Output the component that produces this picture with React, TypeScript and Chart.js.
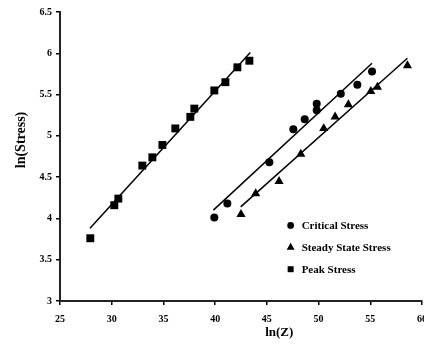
import React, { useEffect, useRef } from "react";
import { Chart, registerables } from "chart.js";

Chart.register(...registerables);

const peakX = [27.93, 30.25, 30.64, 32.96, 33.93, 34.9, 36.15, 37.6, 37.99, 39.92, 40.99, 42.15, 43.31];
const peakY = [3.76, 4.16, 4.24, 4.64, 4.74, 4.89, 5.09, 5.23, 5.33, 5.55, 5.65, 5.83, 5.91];

const criticalX = [39.92, 41.18, 45.24, 47.56, 48.66, 49.82, 49.82, 52.15, 53.75, 55.17];
const criticalY = [4.01, 4.18, 4.68, 5.08, 5.2, 5.39, 5.31, 5.51, 5.62, 5.78];

const steadyX = [42.5, 43.92, 46.18, 48.28, 50.5, 51.6, 52.88, 55.05, 55.69, 58.59];
const steadyY = [4.05, 4.3, 4.45, 4.78, 5.09, 5.23, 5.38, 5.54, 5.59, 5.85];

// fitted trend lines: [start, end]
const peakFitX = [27.9, 43.4];
const peakFitY = [3.88, 6.01];
const criticalFitX = [39.83, 55.17];
const criticalFitY = [4.1, 5.88];
const steadyFitX = [42.47, 58.59];
const steadyFitY = [4.14, 5.94];

const seriesLabels = ["Critical Stress", "Steady State Stress", "Peak Stress"];
const xTitle = "ln(Z)";
const yTitle = "ln(Stress)";

const FONT = "'Liberation Serif', 'Times New Roman', serif";

const zip = (xs: number[], ys: number[]) => xs.map((x, i) => ({ x, y: ys[i] }));

const overlay = {
  id: "overlay",
  afterDraw(chart: any) {
    const ctx = chart.ctx;
    const xs = chart.scales.x;
    const ys = chart.scales.y;
    ctx.save();
    ctx.fillStyle = "#000";
    // y title
    ctx.font = `bold 14px ${FONT}`;
    ctx.textAlign = "center";
    ctx.textBaseline = "middle";
    ctx.save();
    ctx.translate(21, ys.getPixelForValue(4.95));
    ctx.rotate(-Math.PI / 2);
    ctx.fillText(yTitle, 0, 0);
    ctx.restore();
    // x title
    ctx.font = `bold 13px ${FONT}`;
    ctx.fillText(xTitle, xs.getPixelForValue(46.2), 333);
    // legend
    const lx = xs.getPixelForValue(47.3);
    const textX = lx + 11;
    const rows = [ys.getPixelForValue(3.915), ys.getPixelForValue(3.65), ys.getPixelForValue(3.385)];
    ctx.font = `bold 11px ${FONT}`;
    ctx.textAlign = "left";
    rows.forEach((ry: number, i: number) => {
      ctx.beginPath();
      if (i === 0) {
        ctx.arc(lx, ry, 3.4, 0, Math.PI * 2);
      } else if (i === 1) {
        const r = 4.6;
        ctx.moveTo(lx, ry - r);
        ctx.lineTo(lx + r * 0.866, ry + r * 0.5);
        ctx.lineTo(lx - r * 0.866, ry + r * 0.5);
        ctx.closePath();
      } else {
        ctx.rect(lx - 3, ry - 3, 6, 6);
      }
      ctx.fill();
      ctx.fillText(seriesLabels[i], textX, ry + 0.5);
    });
    ctx.restore();
  },
};

export default function App() {
  const ref = useRef<HTMLCanvasElement | null>(null);
  useEffect(() => {
    if (!ref.current) return;
    const lineStyle = {
      type: "line" as const,
      showLine: true,
      borderColor: "#000",
      borderWidth: 1.5,
      pointRadius: 0,
      fill: false,
    };
    const chart = new Chart(ref.current, {
      type: "scatter",
      data: {
        datasets: [
          { ...lineStyle, label: "peakFit", data: zip(peakFitX, peakFitY) },
          { ...lineStyle, label: "criticalFit", data: zip(criticalFitX, criticalFitY) },
          { ...lineStyle, label: "steadyFit", data: zip(steadyFitX, steadyFitY) },
          {
            label: seriesLabels[0],
            data: zip(criticalX, criticalY),
            pointStyle: "circle",
            pointRadius: 4,
            backgroundColor: "#000",
            borderColor: "#000",
            borderWidth: 0,
          },
          {
            label: seriesLabels[1],
            data: zip(steadyX, steadyY),
            pointStyle: "triangle",
            pointRadius: 5.3,
            backgroundColor: "#000",
            borderColor: "#000",
            borderWidth: 0,
          },
          {
            label: seriesLabels[2],
            data: zip(peakX, peakY),
            pointStyle: "rect",
            pointRadius: 5.6,
            backgroundColor: "#000",
            borderColor: "#000",
            borderWidth: 0,
          },
        ] as any,
      },
      options: {
        animation: false,
        responsive: true,
        maintainAspectRatio: false,
        layout: { autoPadding: false, padding: { top: 12, right: 2, bottom: 0, left: 0 } } as any,
        plugins: { legend: { display: false }, tooltip: { enabled: false } },
        scales: {
          x: {
            type: "linear",
            min: 25,
            max: 60,
            afterFit: (s: any) => {
              s.height = 43;
              s.paddingLeft = 0;
              s.paddingRight = 0;
            },
            ticks: {
              stepSize: 5,
              padding: 8,
              color: "#000",
              font: { family: FONT, size: 10, weight: "bold" },
              maxRotation: 0,
              autoSkip: false,
            },
            grid: { display: true, drawOnChartArea: false, drawTicks: true, tickLength: 4, color: "#000", lineWidth: 1.5 },
            border: { display: true, color: "#222", width: 2 },
          },
          y: {
            type: "linear",
            min: 3,
            max: 6.5,
            afterFit: (s: any) => {
              s.width = 60;
              s.paddingTop = 0;
              s.paddingBottom = 0;
            },
            ticks: {
              stepSize: 0.5,
              padding: 4,
              color: "#000",
              font: { family: FONT, size: 10, weight: "bold" },
              callback: (v: any) => String(Number(v)),
            },
            grid: { display: true, drawOnChartArea: false, drawTicks: true, tickLength: 4, color: "#000", lineWidth: 1.5 },
            border: { display: true, color: "#222", width: 2 },
          },
        },
      },
      plugins: [overlay],
    });
    return () => chart.destroy();
  }, []);
  return (
    <div style={{ position: "fixed", left: 0, top: 0, width: 424, height: 344, background: "#fff" }}>
      <canvas ref={ref} />
    </div>
  );
}
